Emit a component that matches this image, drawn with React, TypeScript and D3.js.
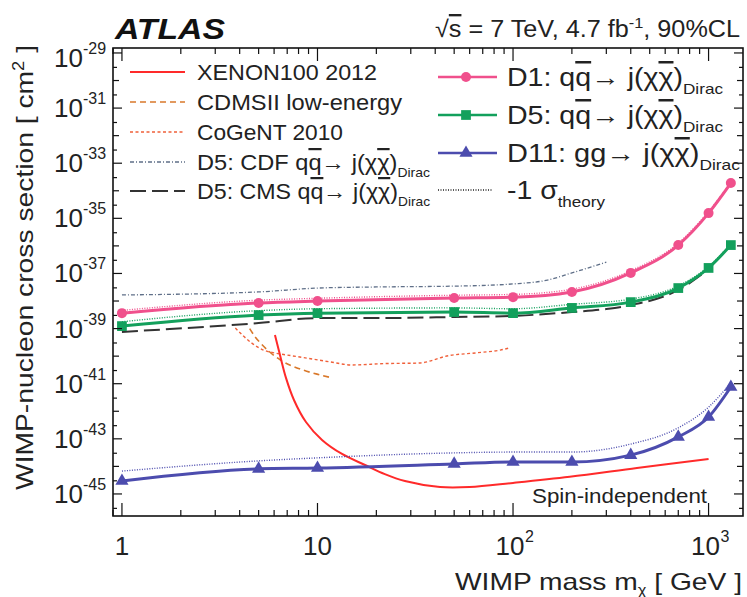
import React from 'react';
import * as d3 from 'd3';

// ---------- data (cross sections stored as log10 of cm^2) ----------
const massPoints = [1, 5, 10, 50, 100, 200, 400, 700, 1000, 1300];
const d1Exp = [-38.44, -38.07, -38.0, -37.89, -37.86, -37.67, -36.98, -35.97, -34.81, -33.72];
const d1SigmaExp = [-38.34, -37.97, -37.9, -37.79, -37.76, -37.57, -36.9, -35.9, -34.75, -33.68];
const d5Exp = [-38.91, -38.51, -38.44, -38.4, -38.44, -38.25, -38.04, -37.53, -36.8, -35.97];
const d5SigmaExp = [-38.75, -38.35, -38.28, -38.25, -38.28, -38.12, -37.93, -37.45, -36.75, -35.93];
const d11Exp = [-44.53, -44.09, -44.06, -43.91, -43.84, -43.84, -43.59, -42.93, -42.21, -41.12];
const d11SigmaExp = [-44.17, -43.8, -43.69, -43.51, -43.48, -43.48, -43.19, -42.6, -41.85, -40.97];

const cmsMass = [1, 5, 10, 20, 50, 100, 200, 300, 400, 700, 1000];
const cmsExp = [-39.12, -38.8, -38.62, -38.62, -38.58, -38.54, -38.4, -38.29, -38.15, -37.6, -36.85];

const cdfMass = [1, 5, 10, 20, 50, 100, 150, 200, 300];
const cdfExp = [-37.78, -37.67, -37.53, -37.49, -37.46, -37.38, -37.24, -36.98, -36.59];

const xenonMass = [6.06, 6.43, 6.9, 7.58, 8.73, 10.55, 13.35, 17.5, 22.1, 28, 42.3, 60, 100, 195, 430, 1000];
const xenonExp = [-39.23, -39.96, -40.79, -41.59, -42.39, -43.04, -43.55, -43.95, -44.28, -44.53, -44.75, -44.75, -44.6, -44.38, -44.06, -43.73];

const cdmsMass = [4.5, 4.8, 5.1, 5.7, 6.5, 8.4, 10.3, 11.9];
const cdmsExp = [-39.0, -39.3, -39.52, -39.85, -40.15, -40.5, -40.68, -40.79];

const cogentMass = [3.8, 4.6, 5.3, 6.1, 7, 8.8, 11.6, 15, 22, 33, 47, 65, 86, 96];
const cogentExp = [-38.98, -39.52, -39.78, -39.89, -39.96, -40.07, -40.21, -40.32, -40.27, -40.25, -39.98, -39.88, -39.78, -39.7];

const xTickMajors = [1, 10, 100, 1000];
const xTickLabels = [['1', ''], ['10', ''], ['10', '2'], ['10', '3']];
const yLabelExps = [-45, -43, -41, -39, -37, -35, -33, -31, -29];

const C = {
  d1: '#f0508c',
  d5: '#13a05c',
  d11: '#4c4cae',
  xenon: '#ff2a2a',
  cdms: '#d9782a',
  cogent: '#f0603a',
  cdf: '#5f6f88',
  cms: '#333333',
};

const W = 747, H = 597;
const L = 113, R = 743, T = 48, B = 516;

const FONT = '"Liberation Sans", Arial, Helvetica, sans-serif';

type Seg = { t: string; over?: boolean; sub?: boolean; sup?: boolean };

function RichText({ x, y, segs, size, anchor = 'start', subSize, supSize, subDy = 8, supDy = -10, fill = '#222', textLength }: any) {
  const parts: any[] = [];
  let cur = 0;
  segs.forEach((s: Seg, i: number) => {
    let dy = 0;
    let fs = size;
    if (s.sub) { dy = subDy - cur; cur = subDy; fs = subSize || size * 0.62; }
    else if (s.sup) { dy = supDy - cur; cur = supDy; fs = supSize || size * 0.65; }
    else { dy = -cur; cur = 0; }
    parts.push(
      <tspan key={i} dy={dy} fontSize={fs} style={s.over ? { textDecoration: 'overline' } : undefined}>{s.t}</tspan>
    );
  });
  return (
    <text x={x} y={y} fontFamily={FONT} fontSize={size} textAnchor={anchor} fill={fill}
      textLength={textLength} lengthAdjust={textLength ? 'spacingAndGlyphs' : undefined}>
      {parts}
    </text>
  );
}

export default function App() {
  const x = d3.scaleLog().domain([0.9, 1500]).range([L, R]);
  const y = d3.scaleLog().domain([Math.pow(10, -45.8), Math.pow(10, -28.82)]).range([B, T]);

  const line = d3.line<[number, number]>()
    .x(d => x(d[0]))
    .y(d => y(Math.pow(10, d[1])))
    .curve(d3.curveMonotoneX);
  const smooth = d3.line<[number, number]>()
    .x(d => x(d[0]))
    .y(d => y(Math.pow(10, d[1])))
    .curve(d3.curveCatmullRom.alpha(0.5));

  const zip = (ms: number[], es: number[]) => ms.map((m, i) => [m, es[i]] as [number, number]);

  // ticks
  const xMinor: number[] = [];
  for (let dec = 0.1; dec <= 1000; dec *= 10) {
    for (let k = 1; k <= 9; k++) {
      const v = +(k * dec).toPrecision(3);
      if (v >= 0.9 && v <= 1500) xMinor.push(v);
    }
  }
  const yDecades: number[] = [];
  for (let e = -45; e <= -29; e++) yDecades.push(e);
  const yHalf: number[] = [];
  for (let e = -46; e <= -29; e++) yHalf.push(e + Math.log10(3));

  const tri = d3.symbol().type(d3.symbolTriangle).size(75)();
  const sq = d3.symbol().type(d3.symbolSquare).size(95)();

  const qq: Seg[] = [{ t: 'q' }, { t: 'q', over: true }, { t: '\u2192 j(\u03C7' }, { t: '\u03C7', over: true }, { t: ')' }];

  const leftLegend = [
    { label: [{ t: 'XENON100 2012' }], color: C.xenon, dash: '', w: 2, len: 180 },
    { label: [{ t: 'CDMSII low-energy' }], color: C.cdms, dash: '6,4', w: 1.6, len: 205 },
    { label: [{ t: 'CoGeNT 2010' }], color: C.cogent, dash: '3,2.5', w: 1.4, len: 146 },
    { label: [{ t: 'D5: CDF ' }, ...qq, { t: 'Dirac', sub: true }], color: C.cdf, dash: '4,2,1,2', w: 1.3, len: 233 },
    { label: [{ t: 'D5: CMS ' }, ...qq, { t: 'Dirac', sub: true }], color: C.cms, dash: '16,6', w: 1.8, len: 233 },
  ];
  const leftLegendY = [72, 102, 132, 162, 191];

  const rightLegendY = [77, 115, 153, 190];

  return (
    <svg width={W} height={H} style={{ position: 'absolute', left: 0, top: 0, background: '#fff' }}>
      <defs>
        <clipPath id="plotclip"><rect x={L} y={T} width={R - L} height={B - T} /></clipPath>
      </defs>
      <rect x={0} y={0} width={W} height={H} fill="#fff" />

      {/* ATLAS label */}
      <text x={115} y={39} fontFamily={FONT} fontWeight="bold" fontStyle="italic" fontSize={29}
        textLength={110} lengthAdjust="spacingAndGlyphs" fill="#111">ATLAS</text>
      <RichText x={740} y={37} size={23.5} anchor="end" fill="#222" textLength={305}
        segs={[{ t: '\u221A' }, { t: 's', over: true }, { t: ' = 7 TeV, 4.7 fb' }, { t: '-1', sup: true }, { t: ', 90%CL' }]}
        supDy={-9} />

      {/* data curves */}
      <g clipPath="url(#plotclip)" fill="none">
        <path d={line(zip(cdfMass, cdfExp)) || ''} stroke={C.cdf} strokeWidth={1.3} strokeDasharray="4,2,1,2" />
        <path d={line(zip(cogentMass, cogentExp)) || ''} stroke={C.cogent} strokeWidth={1.4} strokeDasharray="3,2.5" />
        <path d={line(zip(cdmsMass, cdmsExp)) || ''} stroke={C.cdms} strokeWidth={1.6} strokeDasharray="6,4" />
        <path d={smooth(zip(xenonMass, xenonExp)) || ''} stroke={C.xenon} strokeWidth={2} />
        <path d={line(zip(cmsMass, cmsExp)) || ''} stroke={C.cms} strokeWidth={2} strokeDasharray="16,6" />

        <path d={line(zip(massPoints, d1SigmaExp)) || ''} stroke={C.d1} strokeWidth={1.4} strokeDasharray="1,1.5" />
        <path d={line(zip(massPoints, d5SigmaExp)) || ''} stroke={C.d5} strokeWidth={1.4} strokeDasharray="1,1.5" />
        <path d={line(zip(massPoints, d11SigmaExp)) || ''} stroke={C.d11} strokeWidth={1.4} strokeDasharray="1,1.5" />

        <path d={line(zip(massPoints, d1Exp)) || ''} stroke={C.d1} strokeWidth={3} />
        <path d={line(zip(massPoints, d5Exp)) || ''} stroke={C.d5} strokeWidth={3} />
        <path d={line(zip(massPoints, d11Exp)) || ''} stroke={C.d11} strokeWidth={3} />

        {massPoints.map((m, i) => (
          <g key={'mk' + i}>
            <circle cx={x(m)} cy={y(Math.pow(10, d1Exp[i]))} r={5} fill={C.d1} />
            <path d={sq || ''} transform={`translate(${x(m)},${y(Math.pow(10, d5Exp[i]))})`} fill={C.d5} />
            <path d={tri || ''} transform={`translate(${x(m)},${y(Math.pow(10, d11Exp[i]))})`} fill={C.d11} />
          </g>
        ))}
      </g>

      {/* axes frame and ticks */}
      <g stroke="#111" strokeWidth={1.2}>
        {xMinor.map((v, i) => {
          const major = xTickMajors.includes(v);
          const len = major ? 13 : 6;
          return (
            <g key={'xt' + i}>
              <line x1={x(v)} x2={x(v)} y1={B} y2={B - len} />
              <line x1={x(v)} x2={x(v)} y1={T} y2={T + len} />
            </g>
          );
        })}
        {yDecades.map((e, i) => {
          const len = e % 2 !== 0 ? 9 : 6;
          const yy = y(Math.pow(10, e));
          return (
            <g key={'yt' + i}>
              <line x1={L} x2={L + len} y1={yy} y2={yy} />
              <line x1={R} x2={R - len} y1={yy} y2={yy} />
            </g>
          );
        })}
        {yHalf.filter(e => e > -45.8 && e < -28.82).map((e, i) => {
          const yy = y(Math.pow(10, e));
          return (
            <g key={'yh' + i}>
              <line x1={L} x2={L + 4} y1={yy} y2={yy} />
              <line x1={R} x2={R - 4} y1={yy} y2={yy} />
            </g>
          );
        })}
      </g>
      <rect x={L} y={T} width={R - L} height={B - T} fill="none" stroke="#111" strokeWidth={1.6} />

      {/* x tick labels */}
      {xTickMajors.map((v, i) => {
        const [base, exp] = xTickLabels[i];
        const cx = x(v) - (exp ? 3 : 0);
        return (
          <g key={'xl' + i}>
            <text x={cx} y={555} fontFamily={FONT} fontSize={26} textAnchor="middle" fill="#222">{base}</text>
            {exp && <text x={cx + 15} y={542} fontFamily={FONT} fontSize={16} fill="#222">{exp}</text>}
          </g>
        );
      })}

      {/* y tick labels */}
      {yLabelExps.map((e, i) => {
        let cy = y(Math.pow(10, e));
        if (e === -29) cy += 5;
        return (
          <g key={'yl' + i}>
            <text x={83} y={cy + 9} fontFamily={FONT} fontSize={26} textAnchor="end" fill="#222">10</text>
            <text x={83} y={cy - 4} fontFamily={FONT} fontSize={16} fill="#222">{String(e)}</text>
          </g>
        );
      })}

      {/* axis titles */}
      <g transform="translate(33,490) rotate(-90)">
        <RichText x={0} y={0} size={24} fill="#222" textLength={445}
          segs={[{ t: 'WIMP-nucleon cross section [ cm' }, { t: '2', sup: true }, { t: ' ]' }]} supDy={-9} />
      </g>
      <RichText x={742} y={590} size={24} anchor="end" fill="#222" textLength={287}
        segs={[{ t: 'WIMP mass m' }, { t: '\u03C7', sub: true }, { t: ' [ GeV ]' }]} subDy={5} subSize={14} />

      <text x={532} y={503} fontFamily={FONT} fontSize={20} fill="#222" textLength={175} lengthAdjust="spacingAndGlyphs">Spin-independent</text>

      {/* left legend */}
      {leftLegend.map((e, i) => (
        <g key={'ll' + i}>
          <line x1={130} x2={185} y1={leftLegendY[i]} y2={leftLegendY[i]} stroke={e.color} strokeWidth={e.w} strokeDasharray={e.dash || undefined} />
          <RichText x={197} y={leftLegendY[i] + 8} size={22} segs={e.label} subSize={13} subDy={7} fill="#222" textLength={e.len} />
        </g>
      ))}

      {/* right legend */}
      <g>
        <line x1={438} x2={497} y1={rightLegendY[0]} y2={rightLegendY[0]} stroke={C.d1} strokeWidth={2.5} />
        <circle cx={466} cy={rightLegendY[0]} r={5} fill={C.d1} />
        <RichText x={507} y={rightLegendY[0] + 9} size={25} fill="#222" textLength={216}
          segs={[{ t: 'D1: ' }, ...qq, { t: 'Dirac', sub: true }]} subSize={15} subDy={8} />

        <line x1={438} x2={497} y1={rightLegendY[1]} y2={rightLegendY[1]} stroke={C.d5} strokeWidth={2.5} />
        <path d={sq || ''} transform={`translate(466,${rightLegendY[1]})`} fill={C.d5} />
        <RichText x={507} y={rightLegendY[1] + 9} size={25} fill="#222" textLength={216}
          segs={[{ t: 'D5: ' }, ...qq, { t: 'Dirac', sub: true }]} subSize={15} subDy={8} />

        <line x1={438} x2={497} y1={rightLegendY[2]} y2={rightLegendY[2]} stroke={C.d11} strokeWidth={2.5} />
        <path d={tri || ''} transform={`translate(466,${rightLegendY[2]})`} fill={C.d11} />
        <RichText x={507} y={rightLegendY[2] + 9} size={25} fill="#222" textLength={233}
          segs={[{ t: 'D11: gg\u2192 j(\u03C7' }, { t: '\u03C7', over: true }, { t: ')' }, { t: 'Dirac', sub: true }]} subSize={15} subDy={8} />

        <line x1={438} x2={493} y1={rightLegendY[3]} y2={rightLegendY[3]} stroke="#222" strokeWidth={1.4} strokeDasharray="1,1.5" />
        <RichText x={507} y={rightLegendY[3] + 9} size={25} fill="#222" textLength={98}
          segs={[{ t: '-1 \u03C3' }, { t: 'theory', sub: true }]} subSize={15} subDy={8} />
      </g>
    </svg>
  );
}
